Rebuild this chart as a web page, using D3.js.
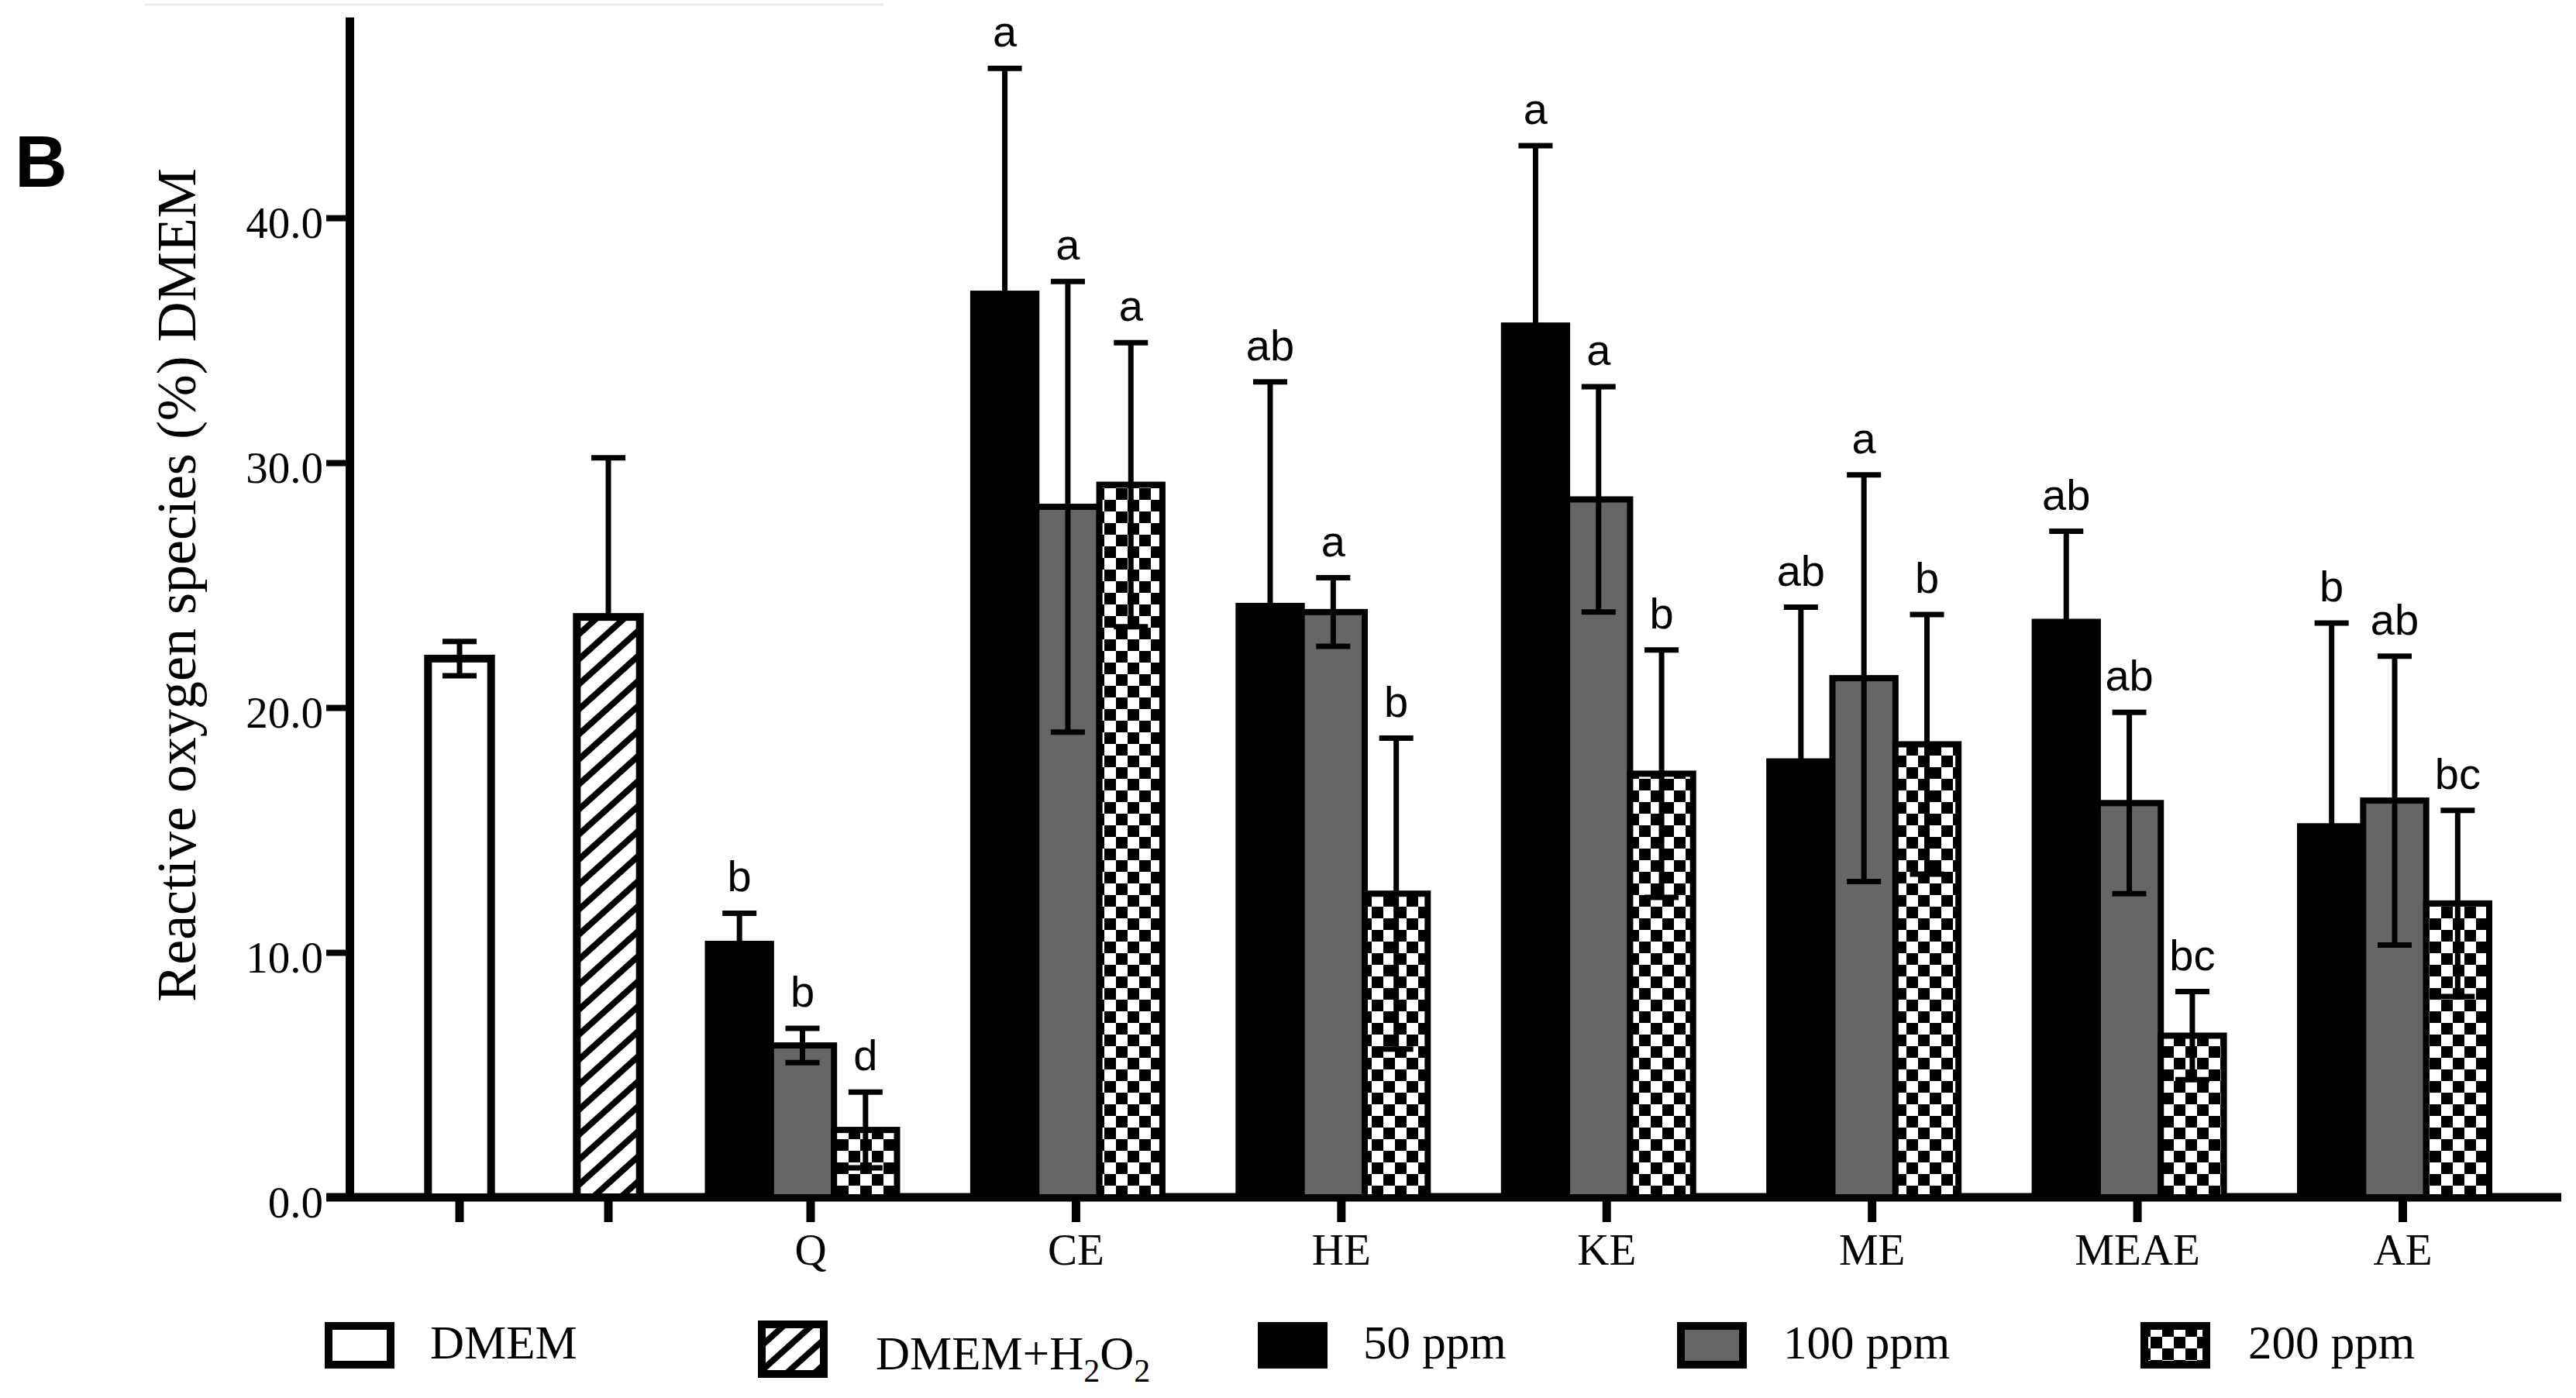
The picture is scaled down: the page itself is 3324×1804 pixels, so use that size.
<!DOCTYPE html>
<html>
<head>
<meta charset="utf-8">
<script src="https://cdn.jsdelivr.net/npm/d3@7"></script>
<style>
body { margin: 0; background: #fff; }
svg { display: block; }
</style>
</head>
<body>
<div id="chart"></div>
<script>
// control wells, one bar each
const controlNames = ["DMEM", "DMEM+H2O2"];
const controlMeans = [22.0, 23.7];
const controlSD = [0.7, 6.5];

// extracts, one bar per concentration
const groups = ["Q", "CE", "HE", "KE", "ME", "MEAE", "AE"];
const doses = ["50 ppm", "100 ppm", "200 ppm"];
const mean50 = [10.35, 36.9, 24.15, 35.6, 17.8, 23.5, 15.15];
const sd50 = [1.25, 9.2, 9.15, 7.35, 6.3, 3.7, 8.3];
const mean100 = [6.2, 28.2, 23.9, 28.5, 21.2, 16.1, 16.2];
const sd100 = [0.7, 9.2, 1.4, 4.6, 8.3, 3.7, 5.9];
const mean200 = [2.75, 29.1, 12.4, 17.3, 18.5, 6.6, 12.0];
const sd200 = [1.55, 5.8, 6.35, 5.05, 5.3, 1.8, 3.8];
const letters50 = ["b", "a", "ab", "a", "ab", "ab", "b"];
const letters100 = ["b", "a", "a", "a", "a", "ab", "ab"];
const letters200 = ["d", "a", "b", "b", "b", "bc", "bc"];

const yTicks = [0, 10, 20, 30, 40];
const yLabel = "Reactive oxygen species (%) DMEM";

const ctx = {
    w: 3324,
    h: 1804,
    x0: 451,      // y axis position
    y0: 1545,     // x axis position
    yTop: 22,
    serif: "'Liberation Serif', 'Times New Roman', serif",
    sans: "'Liberation Sans', Arial, Helvetica, sans-serif"
};

const svg = d3.select("#chart").append("svg")
    .attr("width", ctx.w).attr("height", ctx.h);

// patterns: checkerboard for 200 ppm, diagonal hatch for DMEM+H2O2
const defs = svg.append("defs");
const chk = defs.append("pattern").attr("id", "checker")
    .attr("patternUnits", "userSpaceOnUse").attr("width", 30).attr("height", 30);
chk.append("rect").attr("width", 30).attr("height", 30).attr("fill", "#fff");
chk.append("rect").attr("width", 15).attr("height", 15).attr("fill", "#000");
chk.append("rect").attr("x", 15).attr("y", 15).attr("width", 15).attr("height", 15).attr("fill", "#000");
const hatch = defs.append("pattern").attr("id", "hatch")
    .attr("patternUnits", "userSpaceOnUse").attr("width", 24).attr("height", 24)
    .attr("patternTransform", "rotate(48)");
hatch.append("rect").attr("width", 24).attr("height", 24).attr("fill", "#fff");
hatch.append("rect").attr("width", 8).attr("height", 24).attr("fill", "#000");

const doseFill = {"50 ppm": "#000", "100 ppm": "#666666", "200 ppm": "url(#checker)"};
const controlFill = {"DMEM": "#fff", "DMEM+H2O2": "url(#hatch)"};

// faint scan line at the very top of the figure
svg.append("line").attr("x1", 187).attr("x2", 1140).attr("y1", 6).attr("y2", 6)
    .attr("stroke", "#ececec").attr("stroke-width", 3);

// scales
const y = d3.scaleLinear().domain([0, 48.2]).range([ctx.y0, ctx.yTop]);
const xCtrl = d3.scalePoint().domain(controlNames).range([593, 785]);
const xGroup = d3.scalePoint().domain(groups).range([1035.5, 3090]);
const xDose = d3.scaleBand().domain(doses).range([-122, 122]);
const bw = xDose.bandwidth();

// y axis
const yAxis = svg.append("g").attr("transform", "translate(" + ctx.x0 + ",0)")
    .call(d3.axisLeft(y).tickValues(yTicks).tickFormat(d3.format(".1f"))
        .tickSize(30).tickSizeOuter(0).tickPadding(4));
yAxis.attr("font-family", ctx.serif).attr("font-size", 57);
yAxis.select(".domain").attr("stroke-width", 11);
yAxis.selectAll(".tick line").attr("stroke-width", 8);
yAxis.selectAll(".tick text").attr("dy", "0.45em").attr("fill", "#000");

// x axis line + ticks
svg.append("line").attr("x1", ctx.x0 - 30).attr("x2", 3305)
    .attr("y1", ctx.y0).attr("y2", ctx.y0)
    .attr("stroke", "#000").attr("stroke-width", 11);

const xa = svg.append("g").attr("transform", "translate(0," + ctx.y0 + ")")
    .call(d3.axisBottom(xGroup).tickSize(32).tickSizeOuter(0).offset(10.5));
const xc = svg.append("g").attr("transform", "translate(0," + ctx.y0 + ")")
    .call(d3.axisBottom(xCtrl).tickSize(32).tickSizeOuter(0).offset(-18).tickFormat(() => ""));
[xa, xc].forEach(function(g) {
    g.select(".domain").remove();
    g.attr("font-family", ctx.serif).attr("font-size", 57);
    g.selectAll(".tick line").attr("stroke-width", 11);
    g.selectAll(".tick text").attr("y", 87).attr("dy", 0).attr("fill", "#000");
});

// flatten data for drawing
var ctrlData = controlNames.map(function(n, i) {
    return {name: n, mean: controlMeans[i], sd: controlSD[i], cx: xCtrl(n)};
});
var extData = [];
groups.forEach(function(g, i) {
    extData.push({group: g, dose: doses[0], mean: mean50[i], sd: sd50[i], letter: letters50[i]});
    extData.push({group: g, dose: doses[1], mean: mean100[i], sd: sd100[i], letter: letters100[i]});
    extData.push({group: g, dose: doses[2], mean: mean200[i], sd: sd200[i], letter: letters200[i]});
});
extData.forEach(d => d.cx = xGroup(d.group) + xDose(d.dose) + bw / 2);

// bars
svg.append("g").selectAll("rect").data(ctrlData).enter().append("rect")
    .attr("x", d => d.cx - bw / 2)
    .attr("y", d => y(d.mean))
    .attr("width", bw)
    .attr("height", d => y(0) - y(d.mean))
    .attr("fill", d => controlFill[d.name])
    .attr("stroke", "#000").attr("stroke-width", 10);

svg.append("g").selectAll("rect").data(extData).enter().append("rect")
    .attr("x", d => d.cx - bw / 2)
    .attr("y", d => y(d.mean))
    .attr("width", bw)
    .attr("height", d => y(0) - y(d.mean))
    .attr("fill", d => doseFill[d.dose])
    .attr("stroke", "#000").attr("stroke-width", 8);

// error bars (hatched control only shows the upper half)
function drawErr(sel, both) {
    var cap = 22;
    sel.append("line")
        .attr("x1", d => d.cx).attr("x2", d => d.cx)
        .attr("y1", d => both(d) ? y(d.mean - d.sd) : y(d.mean))
        .attr("y2", d => y(d.mean + d.sd));
    sel.append("line")
        .attr("x1", d => d.cx - cap).attr("x2", d => d.cx + cap)
        .attr("y1", d => y(d.mean + d.sd)).attr("y2", d => y(d.mean + d.sd));
    sel.filter(both).append("line")
        .attr("x1", d => d.cx - cap).attr("x2", d => d.cx + cap)
        .attr("y1", d => y(d.mean - d.sd)).attr("y2", d => y(d.mean - d.sd));
}
var errG = svg.append("g").attr("stroke", "#000").attr("stroke-width", 7);
drawErr(errG.selectAll("g.c").data(ctrlData).enter().append("g"), d => d.name == "DMEM");
drawErr(errG.selectAll("g.e").data(extData).enter().append("g"), d => true);

// significance letters
svg.append("g").selectAll("text").data(extData).enter().append("text")
    .attr("x", d => d.cx)
    .attr("y", d => y(d.mean + d.sd) - 28)
    .attr("text-anchor", "middle")
    .attr("font-family", ctx.sans).attr("font-size", 56)
    .text(d => d.letter);

// y title
svg.append("text")
    .attr("transform", "translate(252,755) rotate(-90)")
    .attr("text-anchor", "middle")
    .attr("font-family", ctx.serif).attr("font-size", 72)
    .text(yLabel);

// panel letter
svg.append("text").attr("x", 19).attr("y", 241)
    .attr("font-family", ctx.sans).attr("font-weight", "bold").attr("font-size", 94)
    .text("B");

// legend
var legendItems = [
    {key: "DMEM", fill: controlFill["DMEM"]},
    {key: "DMEM+H2O2", fill: controlFill["DMEM+H2O2"]},
    {key: "50 ppm", fill: doseFill["50 ppm"]},
    {key: "100 ppm", fill: doseFill["100 ppm"]},
    {key: "200 ppm", fill: doseFill["200 ppm"]}
];
var legendBoxX = [419, 978, 1623, 2164, 2762];
var legendTextX = [555, 1130, 1759, 2301, 2901];
var leg = svg.append("g").selectAll("g").data(legendItems).enter().append("g");
leg.append("rect")
    .attr("x", (d, i) => legendBoxX[i] + 5)
    .attr("y", d => d.key == "DMEM+H2O2" ? 1709 : 1711)
    .attr("width", 80)
    .attr("height", d => d.key == "DMEM+H2O2" ? 64 : 50)
    .attr("fill", d => d.fill)
    .attr("stroke", "#000").attr("stroke-width", 10);
var lt = leg.append("text")
    .attr("x", (d, i) => legendTextX[i])
    .attr("y", d => d.key == "DMEM+H2O2" ? 1767 : 1753)
    .attr("font-family", ctx.serif).attr("font-size", 61);
lt.filter(d => d.key != "DMEM+H2O2").text(d => d.key);
var h2o2 = lt.filter(d => d.key == "DMEM+H2O2");
h2o2.append("tspan").text("DMEM+H");
h2o2.append("tspan").attr("font-size", 42).attr("dy", 16).text("2");
h2o2.append("tspan").attr("dy", -16).text("O");
h2o2.append("tspan").attr("font-size", 42).attr("dy", 16).text("2");
</script>
</body>
</html>
